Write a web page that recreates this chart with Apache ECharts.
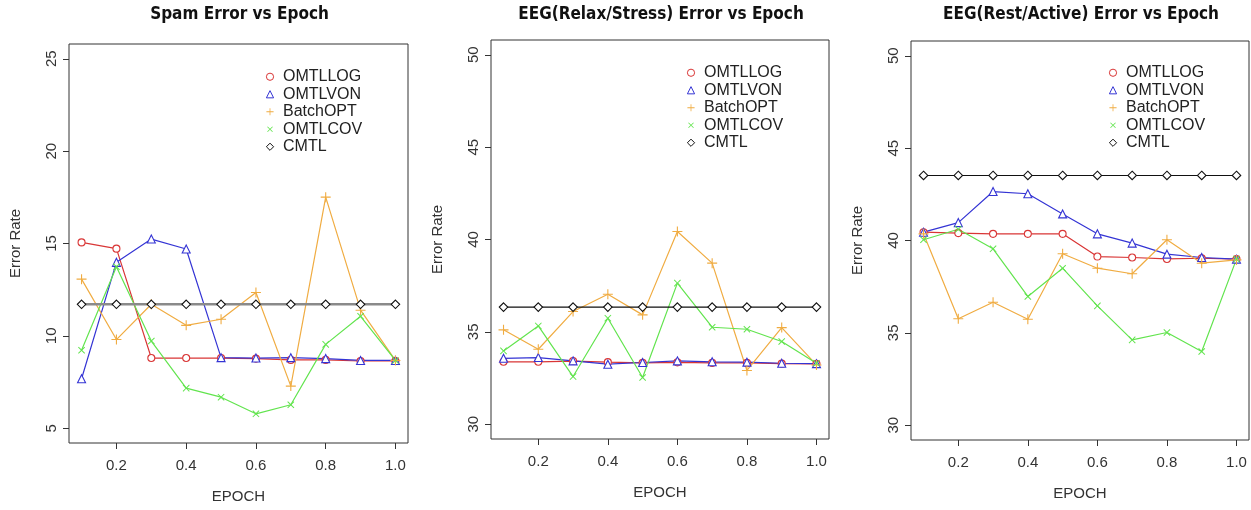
<!DOCTYPE html>
<html>
<head>
<meta charset="utf-8">
<script src="https://cdn.jsdelivr.net/npm/echarts@6/dist/echarts.min.js"></script>
<style>
  html, body { margin: 0; padding: 0; background: #fff; }
  #chart { width: 1251px; height: 510px; }
</style>
</head>
<body>
<div id="chart"></div>
<script>
// x values and ticks
const epochs = [0.1, 0.2, 0.3, 0.4, 0.5, 0.6, 0.7, 0.8, 0.9, 1.0];
const xTicks = [0.2, 0.4, 0.6, 0.8, 1.0];
const spamYTicks = [5, 10, 15, 20, 25];
const eegYTicks = [30, 35, 40, 45, 50];
const seriesNames = ['OMTLLOG', 'OMTLVON', 'BatchOPT', 'OMTLCOV', 'CMTL'];

// Spam
const spamOmtllog = [15.06, 14.72, 8.8, 8.8, 8.8, 8.77, 8.7, 8.7, 8.64, 8.64];
const spamOmtlvon = [7.68, 13.98, 15.24, 14.7, 8.82, 8.8, 8.82, 8.77, 8.67, 8.67];
const spamBatchopt = [13.07, 9.8, 11.71, 10.57, 10.9, 12.35, 7.28, 17.51, 11.39, 8.67];
const spamOmtlcov = [9.22, 13.74, 9.72, 7.17, 6.68, 5.78, 6.27, 9.54, 11.06, 8.67];
const spamCmtl = [11.71, 11.71, 11.71, 11.71, 11.71, 11.71, 11.71, 11.71, 11.71, 11.71];

// EEG relax/stress
const relaxOmtllog = [33.38, 33.38, 33.42, 33.36, 33.32, 33.35, 33.32, 33.32, 33.28, 33.27];
const relaxOmtlvon = [33.57, 33.61, 33.43, 33.25, 33.34, 33.43, 33.38, 33.36, 33.3, 33.28];
const relaxBatchopt = [35.11, 34.06, 36.1, 37.04, 35.92, 40.43, 38.72, 32.91, 35.23, 33.21];
const relaxOmtlcov = [33.97, 35.32, 32.58, 35.74, 32.53, 37.64, 35.25, 35.14, 34.48, 33.3];
const relaxCmtl = [36.34, 36.34, 36.34, 36.34, 36.34, 36.34, 36.34, 36.34, 36.34, 36.34];

// EEG rest/active
const restOmtllog = [40.45, 40.4, 40.36, 40.36, 40.36, 39.13, 39.08, 39.0, 39.04, 38.99];
const restOmtlvon = [40.45, 40.97, 42.65, 42.53, 41.44, 40.36, 39.86, 39.26, 39.08, 38.99];
const restBatchopt = [40.36, 35.76, 36.66, 35.74, 39.28, 38.5, 38.2, 40.04, 38.77, 38.95];
const restOmtlcov = [40.04, 40.61, 39.55, 36.97, 38.5, 36.46, 34.62, 35.02, 33.99, 38.99];
const restCmtl = [43.52, 43.52, 43.52, 43.52, 43.52, 43.52, 43.52, 43.52, 43.52, 43.52];

const plusPath = 'path://M0,4.45L4.45,4.45L4.45,0L5.55,0L5.55,4.45L10,4.45L10,5.55L5.55,5.55L5.55,10L4.45,10L4.45,5.55L0,5.55Z';
const colors = ['#d93636', '#3434d4', '#f0ac42', '#62e44e', '#111111'];
// hollow markers: white fill + thin coloured border
const symbols = ['circle', 'triangle', plusPath, plusPath, 'diamond'];
const hollow = [true, true, false, false, true];
const symbolRotates = [0, 0, 0, 45, 0];
const symbolSizes = [7, 8, 10, 9, 8.5];

const panels = [
  { title: 'Spam Error vs Epoch', left: 69, top: 44, width: 339, height: 399,
    yMin: 4.2, yMax: 25.8, yTicks: spamYTicks, legendLeft: 261, legendTop: 68,
    values: [spamOmtllog, spamOmtlvon, spamBatchopt, spamOmtlcov, spamCmtl],
    cmtlLine: { color: '#8a8a8a', width: 2.5 } },
  { title: 'EEG(Relax/Stress) Error vs Epoch', left: 491, top: 40, width: 338, height: 399,
    yMin: 29.2, yMax: 50.8, yTicks: eegYTicks, legendLeft: 682, legendTop: 64,
    values: [relaxOmtllog, relaxOmtlvon, relaxBatchopt, relaxOmtlcov, relaxCmtl],
    cmtlLine: { color: '#111', width: 1.2 } },
  { title: 'EEG(Rest/Active) Error vs Epoch', left: 911, top: 41, width: 338, height: 399,
    yMin: 29.2, yMax: 50.8, yTicks: eegYTicks, legendLeft: 1104, legendTop: 64,
    values: [restOmtllog, restOmtlvon, restBatchopt, restOmtlcov, restCmtl],
    cmtlLine: { color: '#111', width: 1.2 } }
];

const chart = echarts.init(document.getElementById('chart'));
const option = {
  animation: false,
  backgroundColor: '#fff',
  title: [], grid: [], xAxis: [], yAxis: [], legend: [], series: []
};

panels.forEach((p, i) => {
  option.title.push({
    text: p.title, left: p.left + p.width / 2 + 1, top: 6, textAlign: 'center', padding: 0,
    textStyle: { fontFamily: 'Liberation Sans Narrow, DejaVu Sans Condensed, Arial, sans-serif',
      fontWeight: 'bold', fontSize: 17, color: '#111' }
  });
  option.grid.push({
    left: p.left, top: p.top, width: p.width, height: p.height,
    show: true, borderColor: '#333', borderWidth: 1, backgroundColor: 'transparent'
  });
  option.xAxis.push({
    type: 'value', gridIndex: i, min: 0.064, max: 1.036,
    name: 'EPOCH', nameLocation: 'middle', nameGap: 46,
    nameTextStyle: { fontSize: 15, color: '#333', fontFamily: 'Arial, Liberation Sans, sans-serif' },
    axisLine: { show: false }, splitLine: { show: false },
    axisTick: { show: true, length: 6, customValues: xTicks, lineStyle: { color: '#333' } },
    axisLabel: { customValues: xTicks, margin: 15, fontSize: 15, color: '#333',
      fontFamily: 'Arial, Liberation Sans, sans-serif', formatter: v => v.toFixed(1) }
  });
  option.yAxis.push({
    type: 'value', gridIndex: i, min: p.yMin, max: p.yMax,
    name: 'Error Rate', nameLocation: 'middle', nameGap: 46,
    nameTextStyle: { fontSize: 15, color: '#333', fontFamily: 'Arial, Liberation Sans, sans-serif' },
    axisLine: { show: false }, splitLine: { show: false },
    axisTick: { show: true, length: 6, customValues: p.yTicks, lineStyle: { color: '#333' } },
    axisLabel: { customValues: p.yTicks, rotate: 90, margin: 10, fontSize: 15, color: '#333',
      fontFamily: 'Arial, Liberation Sans, sans-serif' }
  });
  option.legend.push({
    left: p.legendLeft, top: p.legendTop, orient: 'vertical', padding: 0,
    itemWidth: 16, itemHeight: 9, itemGap: 0,
    lineStyle: { opacity: 0 },
    itemStyle: { borderWidth: 1 },
    textStyle: { fontSize: 16, lineHeight: 17.5, color: '#222', fontFamily: 'Arial, Liberation Sans, sans-serif' },
    data: seriesNames, selectedMode: false
  });
  seriesNames.forEach((name, k) => {
    const isCmtl = k === 4;
    option.series.push({
      type: 'line', name: name, xAxisIndex: i, yAxisIndex: i,
      data: epochs.map((x, j) => [x, p.values[k][j]]),
      symbol: symbols[k], symbolSize: symbolSizes[k], symbolRotate: symbolRotates[k],
      showAllSymbol: true,
      lineStyle: isCmtl ? p.cmtlLine : { color: colors[k], width: 1.2 },
      itemStyle: hollow[k]
        ? { color: '#fff', borderColor: colors[k], borderWidth: 1.1 }
        : { color: colors[k], borderWidth: 0 },
      emphasis: { disabled: true }
    });
  });
});

chart.setOption(option);
</script>
</body>
</html>
